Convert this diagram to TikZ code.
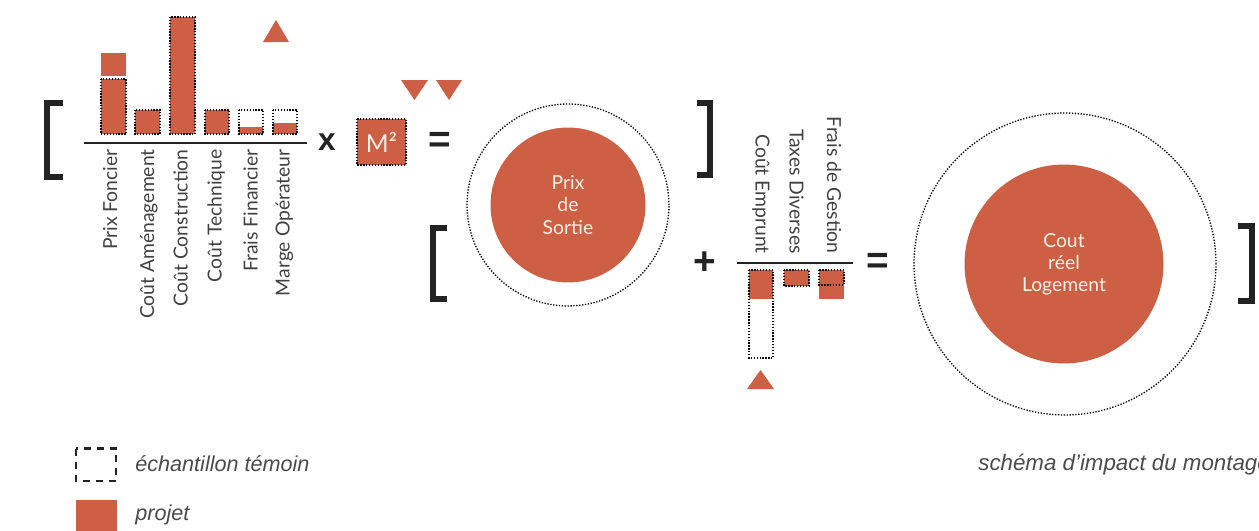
\documentclass[tikz,border=0pt]{standalone}
\usepackage{fontspec}
\setmainfont{Lato}
\newfontfamily\legfont{Liberation Sans}
\definecolor{proj}{RGB}{205,96,68}
\definecolor{ink}{RGB}{35,35,35}
\definecolor{lblc}{RGB}{65,65,65}
\definecolor{legc}{RGB}{75,75,75}
\definecolor{cream}{RGB}{252,240,228}
\begin{document}
\begin{tikzpicture}[x=0.02cm,y=-0.02cm,
  projfill/.style={fill=proj},
  temoin/.style={draw=black,line width=0.75pt,dash pattern=on 0.75pt off 0.9pt},
  bracket/.style={draw=ink,line width=3.4pt},
  axis/.style={draw=ink,line width=1.1pt},
  lbl/.style={font=\fontsize{11}{13}\selectfont, text=lblc, inner sep=0pt},
  oper/.style={font=\legfont\bfseries\fontsize{22}{24}\selectfont, text=ink, inner sep=0pt},
  circtext/.style={font=\fontsize{11}{12.6}\selectfont, text=cream, align=center},
  leg/.style={font=\legfont\itshape\fontsize{12.3}{14}\selectfont, text=legc, inner sep=0pt, anchor=west},
  outer/.style={circle, draw=black, line width=0.75pt, dash pattern=on 0.75pt off 0.9pt},
  inner/.style={circle, fill=proj, circtext}]
\useasboundingbox (0,0) rectangle (1259,531);

% ---- first bracket group
\draw[bracket] (63,103) -- (47,103) -- (47,177) -- (63,177);
\draw[axis] (84,143) -- (307,143);

% bars
\path[projfill] (101,53) rectangle (126,76);
\path[projfill,temoin] (101,79) rectangle (126,134);
\path[projfill,temoin] (135,110) rectangle (160,134);
\path[projfill,temoin] (170,17) rectangle (195,134);
\path[projfill,temoin] (205,110) rectangle (229,134);
\path[projfill] (239,127) rectangle (263,134);
\draw[temoin] (239,110) rectangle (263,134);
\path[projfill] (273,123) rectangle (297,134);
\draw[temoin] (273,110) rectangle (297,134);

\fill[proj] (263,42) -- (289,42) -- (276,20) -- cycle;

\node[lbl,rotate=90,anchor=base east] (l1) at (117,149) {Prix Foncier};
\node[lbl,rotate=90,anchor=base east] (l2) at (154,149) {Coût Aménagement};
\node[lbl,rotate=90,anchor=base east] (l3) at (187.5,149) {Coût Construction};
\node[lbl,rotate=90,anchor=base east] (l4) at (221.5,149) {Coût Technique};
\node[lbl,rotate=90,anchor=base east] (l5) at (257.5,149) {Frais Financier};
\node[lbl,rotate=90,anchor=base east] (l6) at (289.5,149) {Marge Opérateur};

\node[oper,font=\legfont\bfseries\fontsize{18}{20}\selectfont] (times) at (327,142) {x};

\path[projfill,temoin] (357,119) rectangle (406,165);
\node[font=\fontsize{14}{16}\selectfont, text=cream] (m2) at (381.5,142) {M²};

\fill[proj] (401,80) -- (428,80) -- (414.5,100) -- cycle;
\fill[proj] (436,80) -- (462,80) -- (449,100) -- cycle;

\node[oper] (eq1) at (440,142) {=};

\node[outer, minimum size=4.04cm] (o1) at (568,205) {};
\node[inner, minimum size=3.1cm] (c1) at (568,205) {Prix\\de\\Sortie};

\draw[bracket] (697,103) -- (710,103) -- (710,175) -- (697,175);

% ---- second group
\draw[bracket] (447,228) -- (433,228) -- (433,299) -- (447,299);

\node[oper] (plus) at (705,263) {+};
\draw[axis] (737,263) -- (853,263);

\path[projfill] (749,270) rectangle (773,299);
\draw[temoin] (749,270) rectangle (773,358);
\path[projfill,temoin] (784,270) rectangle (809,286);
\path[projfill] (819,270) rectangle (844,299);
\draw[temoin] (819,270) rectangle (844,285);

\fill[proj] (747,389) -- (774,389) -- (760.5,370) -- cycle;

\node[lbl,rotate=-90,anchor=base east] (r1) at (755.5,254) {Coût Emprunt};
\node[lbl,rotate=-90,anchor=base east] (r2) at (789.5,254) {Taxes Diverses};
\node[lbl,rotate=-90,anchor=base east] (r3) at (827,254) {Frais de Gestion};

\node[oper] (eq2) at (878,263) {=};

\node[outer, minimum size=6.04cm] (o2) at (1065,264) {};
\node[inner, minimum size=3.98cm] (c2) at (1064,264) {Cout\\réel\\Logement};

\draw[bracket] (1238,226) -- (1252,226) -- (1252,301) -- (1238,301);

% ---- legend
\draw[ink, line width=1.7pt, dash pattern=on 4.2pt off 3.2pt] (76,448.5) rectangle (116,481);
\node[leg] (t1) at (135,464) {échantillon témoin};
\fill[proj] (76,500) rectangle (117,540);
\node[leg] (t2) at (135,515) {projet};
\node[leg, font=\legfont\itshape\fontsize{12.7}{14}\selectfont] (t3) at (978,465) {schéma d’impact du montage};
\end{tikzpicture}
\end{document}
